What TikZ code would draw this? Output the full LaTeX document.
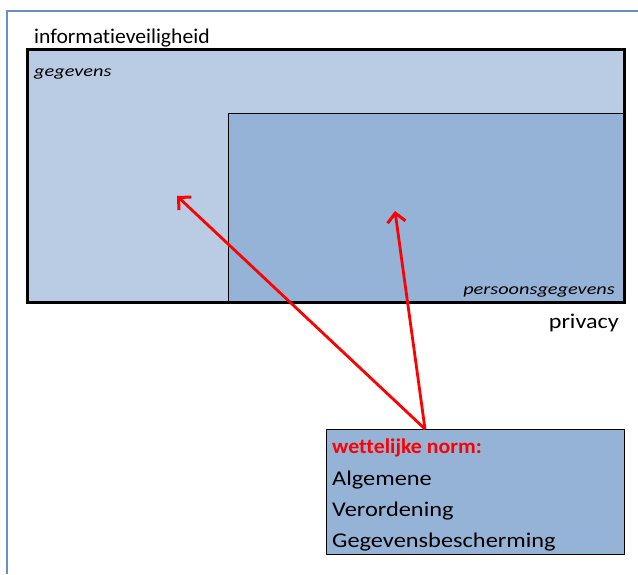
\documentclass[tikz,border=0pt]{standalone}
\usepackage{fontspec}
\setmainfont{Carlito}[Ligatures=NoCommon]
\usetikzlibrary{arrows.meta}
\definecolor{frameblue}{HTML}{6A8FC8}
\definecolor{lightfill}{HTML}{B9CCE4}
\definecolor{darkfill}{HTML}{95B3D7}
\definecolor{arrowred}{HTML}{FF0000}
\tikzset{
  bigtext/.style={font=\fontsize{21}{25}\selectfont\addfontfeature{FakeStretch=1.03}, inner sep=0pt, anchor=base west},
  smallital/.style={font=\fontsize{16}{18}\selectfont\itshape\addfontfeature{FakeStretch=1.27}, inner sep=0pt},
  boxtext/.style={font=\fontsize{21}{24}\selectfont\addfontfeature{FakeStretch=1.16}, inner sep=0pt, anchor=base west},
  boldtext/.style={font=\fontsize{21}{24}\selectfont\bfseries\addfontfeature{FakeStretch=1.04}, text=arrowred, inner sep=0pt, anchor=base west},
  redarrow/.style={draw=arrowred, line width=2.8pt, -{Straight Barb[length=9pt, width=18pt, line width=3pt]}},
}
\begin{document}
\begin{tikzpicture}[x=1pt,y=-1pt]
\useasboundingbox (0,0) rectangle (638,574);
% outer frame
\draw[frameblue, line width=1.4pt] (7,574) -- (7,11) -- (638,11);
% big rectangle
\node[draw=black, fill=lightfill, line width=1pt, minimum width=596pt, minimum height=252pt, inner sep=0pt, anchor=north west] (gegevensbox) at (27,49) {};
\node[draw=black, fill=darkfill, line width=1pt, minimum width=395pt, minimum height=188pt, inner sep=0pt, anchor=north west] (persbox) at (227.5,113) {};
\draw[black, line width=3pt] (gegevensbox.north west) rectangle (gegevensbox.south east);
% labels
\node[bigtext] (info) at (34,43) {informatieveiligheid};
\node[smallital, anchor=base west] (geg) at (34,76) {gegevens};
\node[smallital, anchor=base east] (pers) at (615,294) {persoonsgegevens};
\node[bigtext, anchor=base east, font=\fontsize{21}{25}\selectfont\addfontfeature{FakeStretch=1.15}] (priv) at (619,328) {privacy};
% norm box
\node[draw=black, fill=darkfill, line width=1.2pt, minimum width=298pt, minimum height=125pt, inner sep=0pt, anchor=north west] (norm) at (326,429) {};
\node[boldtext] (wn) at (332,453) {wettelijke norm:};
\node[boxtext] (l1) at (332,485) {Algemene};
\node[boxtext] (l2) at (332,516.5) {Verordening};
\node[boxtext] (l3) at (332,547) {Gegevensbescherming};
% arrows
\coordinate (src) at (425,429);
\coordinate (t1) at (177,196);
\coordinate (t2) at (395,211);
\draw[redarrow] (src) -- (t1);
\draw[redarrow] (src) -- (t2);
\end{tikzpicture}
\end{document}
